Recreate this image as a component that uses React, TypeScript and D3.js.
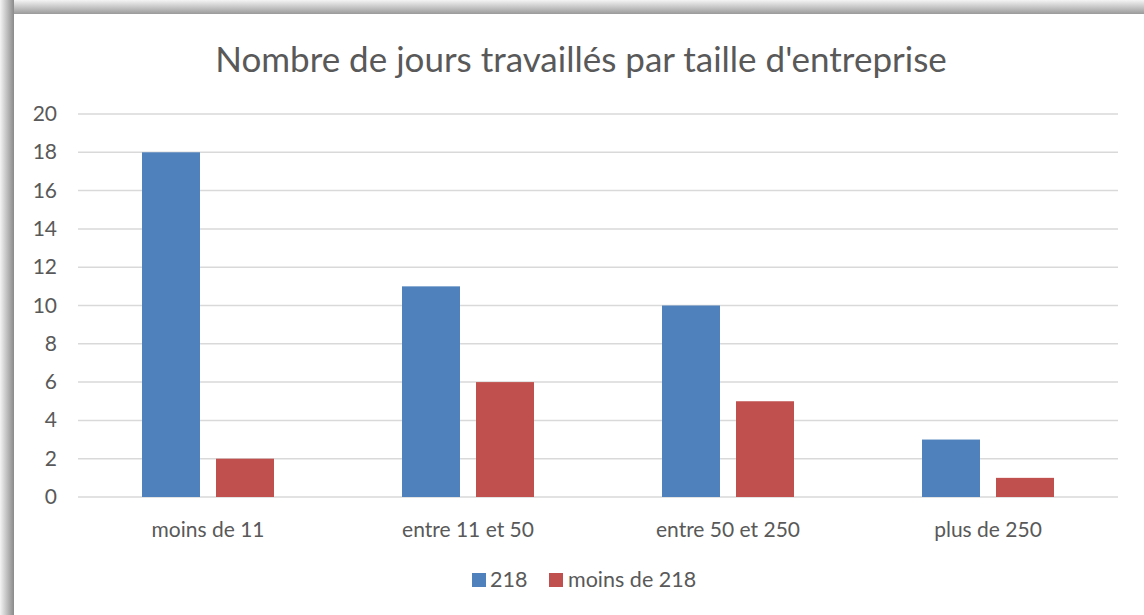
import React from "react";
import * as d3 from "d3";

const categories = ["moins de 11", "entre 11 et 50", "entre 50 et 250", "plus de 250"];
const seriesNames = ["218", "moins de 218"];
const values218 = [18, 11, 10, 3];
const valuesMoins218 = [2, 6, 5, 1];
const yTicks = [0, 2, 4, 6, 8, 10, 12, 14, 16, 18, 20];
const colors = ["#4F81BD", "#C0504D"];

const W = 1144;
const H = 615;
const FONT = "Lato, 'Open Sans', sans-serif";

export default function App() {
  const plot = { left: 78, right: 1118, top: 114, bottom: 497 };

  const x = d3.scaleBand<string>().domain(categories).range([plot.left, plot.right]);
  const y = d3.scaleLinear().domain([0, 20]).range([plot.bottom, plot.top]);
  const barW = 58;
  const gap = 16;
  const series = [values218, valuesMoins218];

  return (
    <svg width={W} height={H} style={{ position: "absolute", left: 0, top: 0, display: "block" }}>
      <defs>
        <linearGradient id="topShadow" x1="0" y1="0" x2="0" y2="1">
          <stop offset="0" stopColor="#f4f4f4" />
          <stop offset="1" stopColor="#9a9a9a" />
        </linearGradient>
        <linearGradient id="leftShadow" x1="0" y1="0" x2="1" y2="0">
          <stop offset="0" stopColor="#f4f4f4" />
          <stop offset="1" stopColor="#8a8a8a" />
        </linearGradient>
      </defs>
      <rect x={0} y={0} width={W} height={H} fill="#ffffff" />
      {/* frame shadow */}
      <rect x={0} y={0} width={W} height={14} fill="url(#topShadow)" />
      <rect x={0} y={0} width={14} height={H} fill="url(#leftShadow)" />
      <rect x={14} y={14} width={W - 14} height={H - 14} fill="#ffffff" />

      <text x={581} y={72} textAnchor="middle" fontFamily={FONT} fontSize={35} fill="#595959">
        Nombre de jours travaillés par taille d'entreprise
      </text>

      {yTicks.map((t) => (
        <g key={t}>
          <line x1={plot.left} x2={plot.right} y1={y(t)} y2={y(t)} stroke="#d9d9d9" strokeWidth={1.5} />
          <text x={57} y={y(t) + 7} textAnchor="end" fontFamily={FONT} fontSize={21} fill="#595959">
            {t}
          </text>
        </g>
      ))}

      {categories.map((c, i) => {
        const cx = (x(c) as number) + x.bandwidth() / 2;
        return (
          <g key={c}>
            {series.map((s, j) => {
              const bx = j === 0 ? cx - gap / 2 - barW : cx + gap / 2;
              return (
                <rect key={j} x={bx} y={y(s[i])} width={barW} height={y(0) - y(s[i])} fill={colors[j]} />
              );
            })}
            <text x={cx} y={537} textAnchor="middle" fontFamily={FONT} fontSize={21} fill="#595959">
              {c}
            </text>
          </g>
        );
      })}

      {/* legend */}
      <g>
        <rect x={472} y={573} width={14} height={14} fill={colors[0]} />
        <text x={490} y={587} fontFamily={FONT} fontSize={21.5} fill="#595959">{seriesNames[0]}</text>
        <rect x={549} y={573} width={14} height={14} fill={colors[1]} />
        <text x={568} y={587} fontFamily={FONT} fontSize={21.5} fill="#595959">{seriesNames[1]}</text>
      </g>
    </svg>
  );
}
